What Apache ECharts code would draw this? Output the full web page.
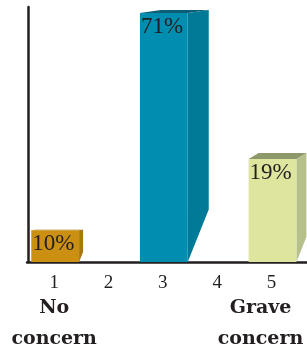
<!DOCTYPE html>
<html>
<head>
<meta charset="utf-8">
<script src="https://cdn.jsdelivr.net/npm/echarts@6/dist/echarts.min.js"></script>
<style>
  html, body { margin: 0; padding: 0; background: #fff; }
  #main { width: 307px; height: 347px; }
</style>
</head>
<body>
<div id="main"></div>
<script>
// level of concern, 1..5
const categories = ['1', '2', '3', '4', '5']
// share of answers (%), empty where no bar is drawn
const shares = [10, null, 71, null, 19]
const lowEndLabel = ['No', 'concern']
const highEndLabel = ['Grave', 'concern']

// axis range (log scale so the short bars stay readable)
const yMin = 7.5
const yMax = 75

// look of each bar: front / side / top colours, depth of the side face
const barLook = {
    0: { front: '#CB9011', side: '#A7770D', top: '#8C640B', depth: 4, rise: 0.5 },
    2: { front: '#008DAF', side: '#007A96', top: '#0B5E76', depth: 21, rise: 3 },
    4: { front: '#DDE59F', side: '#B6C08B', top: '#8E996B', depth: 10, rise: 6 }
}
const ink = '#231F20'

const barData = []
shares.forEach((v, i) => {
    if (v != null) barData.push([i, v])
})

const chart = echarts.init(document.getElementById('main'))

const renderBar = (params, api) => {
    const idx = api.value(0)
    const val = api.value(1)
    const look = barLook[idx]
    const topPt = api.coord([idx, val])
    const basePt = api.coord([idx, yMin])
    const w = api.size([1, 0])[0] * 0.88
    const x0 = topPt[0] - w / 2 + 1
    const x1 = x0 + w
    const top = topPt[1]
    const base = basePt[1]
    const d = look.depth
    const r = look.rise
    return {
        type: 'group',
        children: [
            {
                type: 'polygon',
                shape: { points: [[x1, top], [x1 + d, top - r], [x1 + d, base - d * 2.5], [x1, base]] },
                style: { fill: look.side }
            },
            {
                type: 'polygon',
                shape: { points: [[x0, top], [x1, top], [x1 + d, top - r], [x0 + d, top - r]] },
                style: { fill: look.top }
            },
            {
                type: 'rect',
                shape: { x: x0, y: top, width: w, height: base - top },
                style: { fill: look.front }
            },
            {
                type: 'text',
                style: {
                    text: val + '%',
                    x: x0 + 1,
                    y: Math.min(top + 2, base - 25),
                    font: '23px "Liberation Serif"',
                    fill: ink,
                    align: 'left',
                    verticalAlign: 'top'
                }
            }
        ]
    }
}

const option = {
    animation: false,
    grid: { left: 27, top: 7, bottom: 85, width: 326, outerBoundsMode: 'none', containLabel: false },
    xAxis: {
        type: 'category',
        data: categories.concat(['']),
        boundaryGap: true,
        axisLine: { lineStyle: { color: ink, width: 2.5 } },
        axisTick: { alignWithLabel: true, length: 7, lineStyle: { color: ink, width: 2 } },
        axisLabel: {
            interval: 0,
            margin: 10,
            color: ink,
            hideOverlap: false,
            formatter: (value, index) => {
                let s = '{n|' + value + '}'
                if (index === 0) {
                    s += '\n{a|' + lowEndLabel[0] + '}\n{b|' + lowEndLabel[1] + '}'
                }
                if (index === categories.length - 1) {
                    s += '\n{ar|' + highEndLabel[0] + '}\n{br|' + highEndLabel[1] + '}'
                }
                return s
            },
            rich: {
                n: { fontFamily: 'Liberation Serif', fontSize: 19, lineHeight: 22, color: ink },
                a: { fontFamily: 'DejaVu Serif', fontWeight: 'bold', fontSize: 19, lineHeight: 28, color: ink },
                b: { fontFamily: 'DejaVu Serif', fontWeight: 'bold', fontSize: 19, lineHeight: 35, color: ink },
                ar: { fontFamily: 'DejaVu Serif', fontWeight: 'bold', fontSize: 19, lineHeight: 28, color: ink, padding: [0, 22, 0, 0] },
                br: { fontFamily: 'DejaVu Serif', fontWeight: 'bold', fontSize: 19, lineHeight: 35, color: ink, padding: [0, 22, 0, 0] }
            }
        }
    },
    yAxis: {
        type: 'log',
        min: yMin,
        max: yMax,
        offset: -1,
        axisLine: { show: true, lineStyle: { color: ink, width: 2.5 } },
        axisTick: { show: false },
        axisLabel: { show: false },
        splitLine: { show: false }
    },
    series: [
        {
            type: 'custom',
            renderItem: renderBar,
            data: barData,
            encode: { x: 0, y: 1 }
        }
    ]
}
chart.setOption(option)
</script>
</body>
</html>
